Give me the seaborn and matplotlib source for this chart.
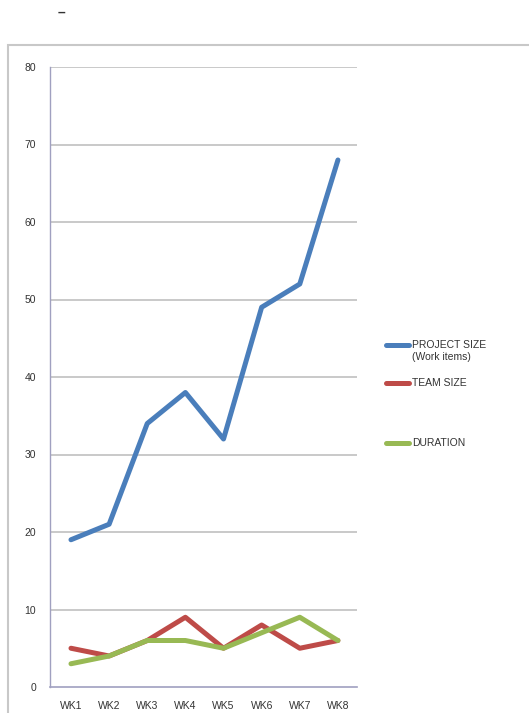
import matplotlib
matplotlib.use("Agg")
import matplotlib.pyplot as plt
import seaborn as sns
import pandas as pd
from matplotlib.lines import Line2D
from matplotlib.patches import Rectangle

weeks = ["WK1", "WK2", "WK3", "WK4", "WK5", "WK6", "WK7", "WK8"]
project_size = [19, 21, 34, 38, 32, 49, 52, 68]
team_size = [5, 4, 6, 9, 5, 8, 5, 6]
duration = [3, 4, 6, 6, 5, 7, 9, 6]
series_names = ["PROJECT SIZE", "TEAM SIZE", "DURATION"]
first_label_extra = "(Work items)"
colors = ["#4a7ebb", "#be4b48", "#98b954"]
yticks = [0, 10, 20, 30, 40, 50, 60, 70, 80]

rows = []
for name, vals in zip(series_names, [project_size, team_size, duration]):
    for i, (w, v) in enumerate(zip(weeks, vals)):
        rows.append({"pos": i, "week": w, "value": v, "series": name})
df = pd.DataFrame(rows)

sns.set_theme(style="white")
plt.rcParams["font.family"] = ["Liberation Sans", "DejaVu Sans"]

fig = plt.figure(figsize=(5.29, 7.13), dpi=100)
ax = fig.add_axes([50/529, 1-687/713, (357-50)/529, (687-67)/713])

# frame around chart
fig.patches.append(Rectangle((8/529, -0.01), 1.0, 1-45/713+0.01, transform=fig.transFigure,
                             fill=False, edgecolor="#c8c8c8", linewidth=1.5, zorder=0))
fig.text(61/529, 1-13/713, "–", fontsize=10, fontweight="bold", color="#333333", ha="center", va="center")

for y in yticks[1:]:
    ax.axhline(y, color="#c0c0c0", linewidth=1.2, zorder=0)

sns.lineplot(data=df, x="pos", y="value", hue="series", palette=colors,
             hue_order=series_names, linewidth=3.6, ax=ax, legend=False, sort=False)

ax.set_xlim(-0.55, 7.45)
ax.set_ylim(0, 80)
ax.set_yticks(yticks)
ax.set_yticklabels([str(v) for v in yticks], fontsize=7.5, color="#333333")
ax.set_xticks(range(len(weeks)))
ax.set_xticklabels(weeks, fontsize=7.5, color="#333333")
ax.set_xticks([i + 0.5 for i in range(-1, len(weeks))], minor=True)
ax.tick_params(axis="x", which="major", length=0, pad=10)
ax.tick_params(axis="x", which="minor", length=4, color="#a0a0c0", width=1, direction="out")
ax.tick_params(axis="y", length=0, pad=10)
ax.set_xlabel("")
ax.set_ylabel("")
for s in ["top", "right"]:
    ax.spines[s].set_visible(False)
ax.spines["left"].set_color("#a0a0c0")
ax.spines["bottom"].set_color("#a0a0c0")
ax.spines["left"].set_linewidth(1)
ax.spines["bottom"].set_linewidth(1.2)

# legend entries (Excel-style, unevenly spaced)
legend_tops = [335, 373, 433]
for name, c, top in zip(series_names, colors, legend_tops):
    h = Line2D([0], [0], color=c, linewidth=3.6)
    fig.legend([h], [name], loc="upper left", bbox_to_anchor=(381/529, 1-top/713),
               frameon=False, fontsize=7.5, handlelength=2.2, handletextpad=0.3,
               labelcolor="#333333", borderpad=0)
fig.text(412/529, 1-357/713, first_label_extra, fontsize=7.5, color="#333333", ha="left", va="center")

fig.savefig("out.png", dpi=100)
